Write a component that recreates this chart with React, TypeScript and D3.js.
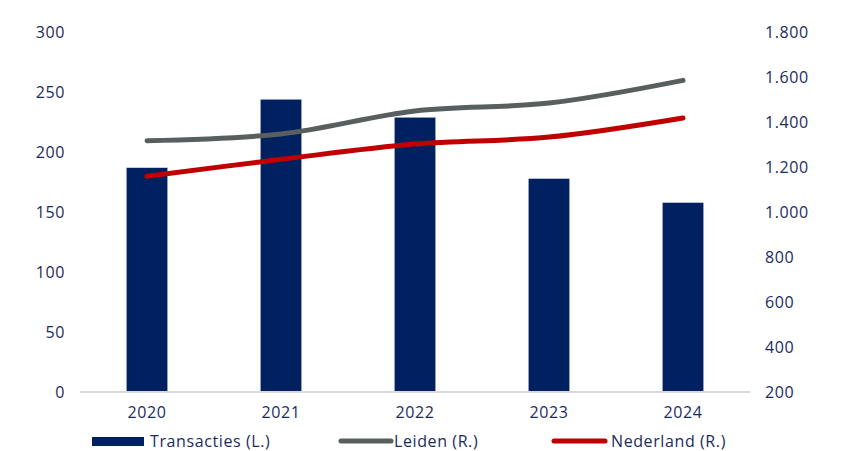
import React, { useRef, useEffect } from 'react';
import * as d3 from 'd3';

const years: string[] = ['2020', '2021', '2022', '2023', '2024'];
const transacties: number[] = [187, 244, 229, 178, 158];
const leiden: number[] = [1317, 1347, 1449, 1484, 1585];
const nederland: number[] = [1159, 1234, 1302, 1333, 1418];
const leftTicks: number[] = [0, 50, 100, 150, 200, 250, 300];
const rightTicks: number[] = [200, 400, 600, 800, 1000, 1200, 1400, 1600, 1800];

const NAVY = '#002060';
const GREY = '#595F5F';
const RED = '#C00000';
const TEXT = '#1C2B5E';
const FONT = '"Open Sans", sans-serif';
const SPACING = 0.6;

function App() {
    const ref = useRef(null);
    const width = 862;
    const height = 451;
    const margin = { top: 32, right: 112, bottom: 59, left: 80 };

    useEffect(() => {
        if (!ref.current) return;
        const svg: any = d3.select(ref.current);
        svg.selectAll('*').remove();

        const x = d3.scaleBand()
            .domain(years)
            .range([margin.left, width - margin.right])
            .paddingInner(0.69)
            .paddingOuter(0.345);

        const yL = d3.scaleLinear().domain([0, 300]).range([height - margin.bottom, margin.top]);
        const yR = d3.scaleLinear().domain([200, 1800]).range([height - margin.bottom, margin.top]);
        const cx = (d: string) => (x(d) as number) + x.bandwidth() / 2;

        // left axis labels
        svg.append('g').selectAll('text')
            .data(leftTicks)
            .join('text')
            .attr('x', 65)
            .attr('y', (d: number) => yL(d))
            .attr('dy', '0.35em')
            .attr('text-anchor', 'end')
            .attr('font-family', FONT)
            .attr('font-size', 16)
            .attr('letter-spacing', SPACING)
            .attr('fill', TEXT)
            .text((d: number) => d);

        // right axis labels
        svg.append('g').selectAll('text')
            .data(rightTicks)
            .join('text')
            .attr('x', 765)
            .attr('y', (d: number) => yR(d))
            .attr('dy', '0.35em')
            .attr('text-anchor', 'start')
            .attr('font-family', FONT)
            .attr('font-size', 16)
            .attr('letter-spacing', SPACING)
            .attr('fill', TEXT)
            .text((d: number) => d3.format(',')(d).replace(/,/g, '.'));

        // bars
        svg.append('g').selectAll('rect')
            .data(transacties)
            .join('rect')
            .attr('x', (_: number, i: number) => x(years[i]))
            .attr('y', (d: number) => yL(d))
            .attr('width', x.bandwidth())
            .attr('height', (d: number) => yL(0) - yL(d))
            .attr('fill', NAVY)
            .attr('stroke', '#e6e8ef')
            .attr('stroke-width', 0.6);

        // baseline
        svg.append('line')
            .attr('x1', margin.left)
            .attr('x2', width - margin.right)
            .attr('y1', yL(0))
            .attr('y2', yL(0))
            .attr('stroke', '#D9D9D9')
            .attr('stroke-width', 2);

        // x labels
        svg.append('g').selectAll('text')
            .data(years)
            .join('text')
            .attr('x', (d: string) => cx(d))
            .attr('y', 412)
            .attr('dy', '0.35em')
            .attr('text-anchor', 'middle')
            .attr('font-family', FONT)
            .attr('font-size', 16)
            .attr('letter-spacing', SPACING)
            .attr('fill', TEXT)
            .text((d: string) => d);

        const line = (vals: number[]) => d3.line<number>()
            .x((_, i) => cx(years[i]))
            .y((d) => yR(d))
            .curve(d3.curveCatmullRom.alpha(0.5))(vals);

        svg.append('path')
            .attr('d', line(leiden))
            .attr('fill', 'none')
            .attr('stroke', GREY)
            .attr('stroke-width', 5)
            .attr('stroke-linecap', 'round')
            .attr('stroke-linejoin', 'round');

        svg.append('path')
            .attr('d', line(nederland))
            .attr('fill', 'none')
            .attr('stroke', RED)
            .attr('stroke-width', 5)
            .attr('stroke-linecap', 'round')
            .attr('stroke-linejoin', 'round');

        // legend
        const lg = svg.append('g').attr('font-family', FONT).attr('font-size', 16)
            .attr('letter-spacing', SPACING).attr('fill', TEXT);
        lg.append('rect').attr('x', 92).attr('y', 437).attr('width', 52).attr('height', 9).attr('fill', NAVY);
        lg.append('text').attr('x', 150).attr('y', 441).attr('dy', '0.35em').text('Transacties (L.)');
        lg.append('line').attr('x1', 341).attr('x2', 391).attr('y1', 441).attr('y2', 441)
            .attr('stroke', GREY).attr('stroke-width', 5).attr('stroke-linecap', 'round');
        lg.append('text').attr('x', 394).attr('y', 441).attr('dy', '0.35em').text('Leiden (R.)');
        lg.append('line').attr('x1', 554).attr('x2', 605).attr('y1', 441).attr('y2', 441)
            .attr('stroke', RED).attr('stroke-width', 5).attr('stroke-linecap', 'round');
        lg.append('text').attr('x', 611).attr('y', 441).attr('dy', '0.35em').text('Nederland (R.)');
    }, []);

    return (
        <svg
            ref={ref}
            width={width}
            height={height}
            style={{ position: 'absolute', left: 0, top: 0, background: '#fff' }}
        />
    );
}

export default App;
